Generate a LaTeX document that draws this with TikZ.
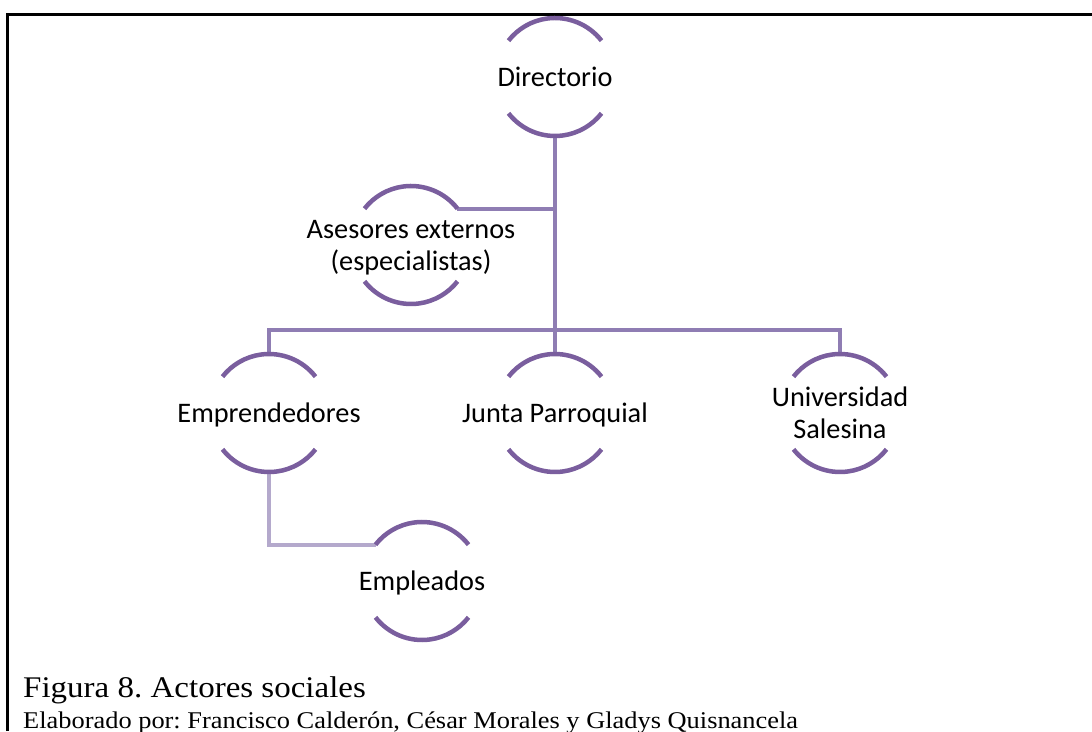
\documentclass[tikz,border=0pt]{standalone}
\usepackage{fontspec}
\usepackage{graphicx}
\setmainfont{Carlito}
\newfontfamily\capfont{Liberation Serif}
\usetikzlibrary{calc}
\definecolor{ringc}{RGB}{122,94,158}
\definecolor{linec}{RGB}{143,125,179}
\definecolor{lightc}{RGB}{180,169,204}
\newcommand\ringat[1]{%
  \draw[ring] ([shift={(38:59pt)}]#1) arc[start angle=38,end angle=142,radius=59pt];
  \draw[ring] ([shift={(218:59pt)}]#1) arc[start angle=218,end angle=322,radius=59pt];}
\frenchspacing
\begin{document}
\begin{tikzpicture}[x=1pt,y=1pt,
  ring/.style={draw=ringc,line width=4.5pt},
  conn/.style={draw=linec,line width=4.3pt},
  lightconn/.style={draw=lightc,line width=4.3pt},
  lbl/.style={font=\fontsize{28.3}{32}\selectfont,align=center,inner sep=0pt,yshift=-3pt},
  capline/.style={anchor=base west,inner sep=0pt}]
\useasboundingbox (0,0) rectangle (1092,731);
\fill[white] (0,0) rectangle (1092,731);
% frame
\draw[line width=3pt] (7.5,0) -- (7.5,716.5) -- (1093,716.5);
% ring centres
\coordinate (cDir) at (555,654);
\coordinate (cAse) at (411,486);
\coordinate (cEmp) at (269,318);
\coordinate (cJun) at (555,318);
\coordinate (cUni) at (840,318);
\coordinate (cEmpl) at (422,150);
\coordinate (bar) at (555,401);
% connector ends
\coordinate (dirB) at ([yshift=-59pt]cDir);
\coordinate (junT) at ([yshift=59pt]cJun);
\coordinate (empT) at ([yshift=59pt]cEmp);
\coordinate (uniT) at ([yshift=59pt]cUni);
\coordinate (empB) at ([yshift=-59pt]cEmp);
\coordinate (aseR) at ([shift={(38:59pt)}]cAse);
\coordinate (emplL) at ([shift={(142:59pt)}]cEmpl);
% connectors
\draw[conn] (dirB) -- (junT);
\draw[conn] (aseR) -- (aseR -| dirB);
\draw[conn] (empT) |- (bar) -| (uniT);
\draw[lightconn] (empB) |- (emplL);
% rings
\ringat{cDir}
\ringat{cAse}
\ringat{cEmp}
\ringat{cJun}
\ringat{cUni}
\ringat{cEmpl}
% labels
\node[lbl] (dir) at (cDir) {\strut Directorio};
\node[lbl] (ase) at (cAse) {\strut Asesores externos\\\strut (especialistas)};
\node[lbl] (emp) at (cEmp) {\strut Emprendedores};
\node[lbl] (jun) at (cJun) {\strut Junta Parroquial};
\node[lbl] (uni) at (cUni) {\strut Universidad\\\strut Salesina};
\node[lbl] (empl) at (cEmpl) {\strut Empleados};
% caption
\node[capline] (cap1) at (23,34) {\capfont\fontsize{30}{36}\selectfont\scalebox{1.1}[1]{Figura 8. Actores sociales}};
\node[capline] (cap2) at (23,3) {\capfont\fontsize{24}{28}\selectfont\scalebox{1.1}[1]{Elaborado por: Francisco Calderón, César Morales y Gladys Quisnancela}};
\end{tikzpicture}
\end{document}
